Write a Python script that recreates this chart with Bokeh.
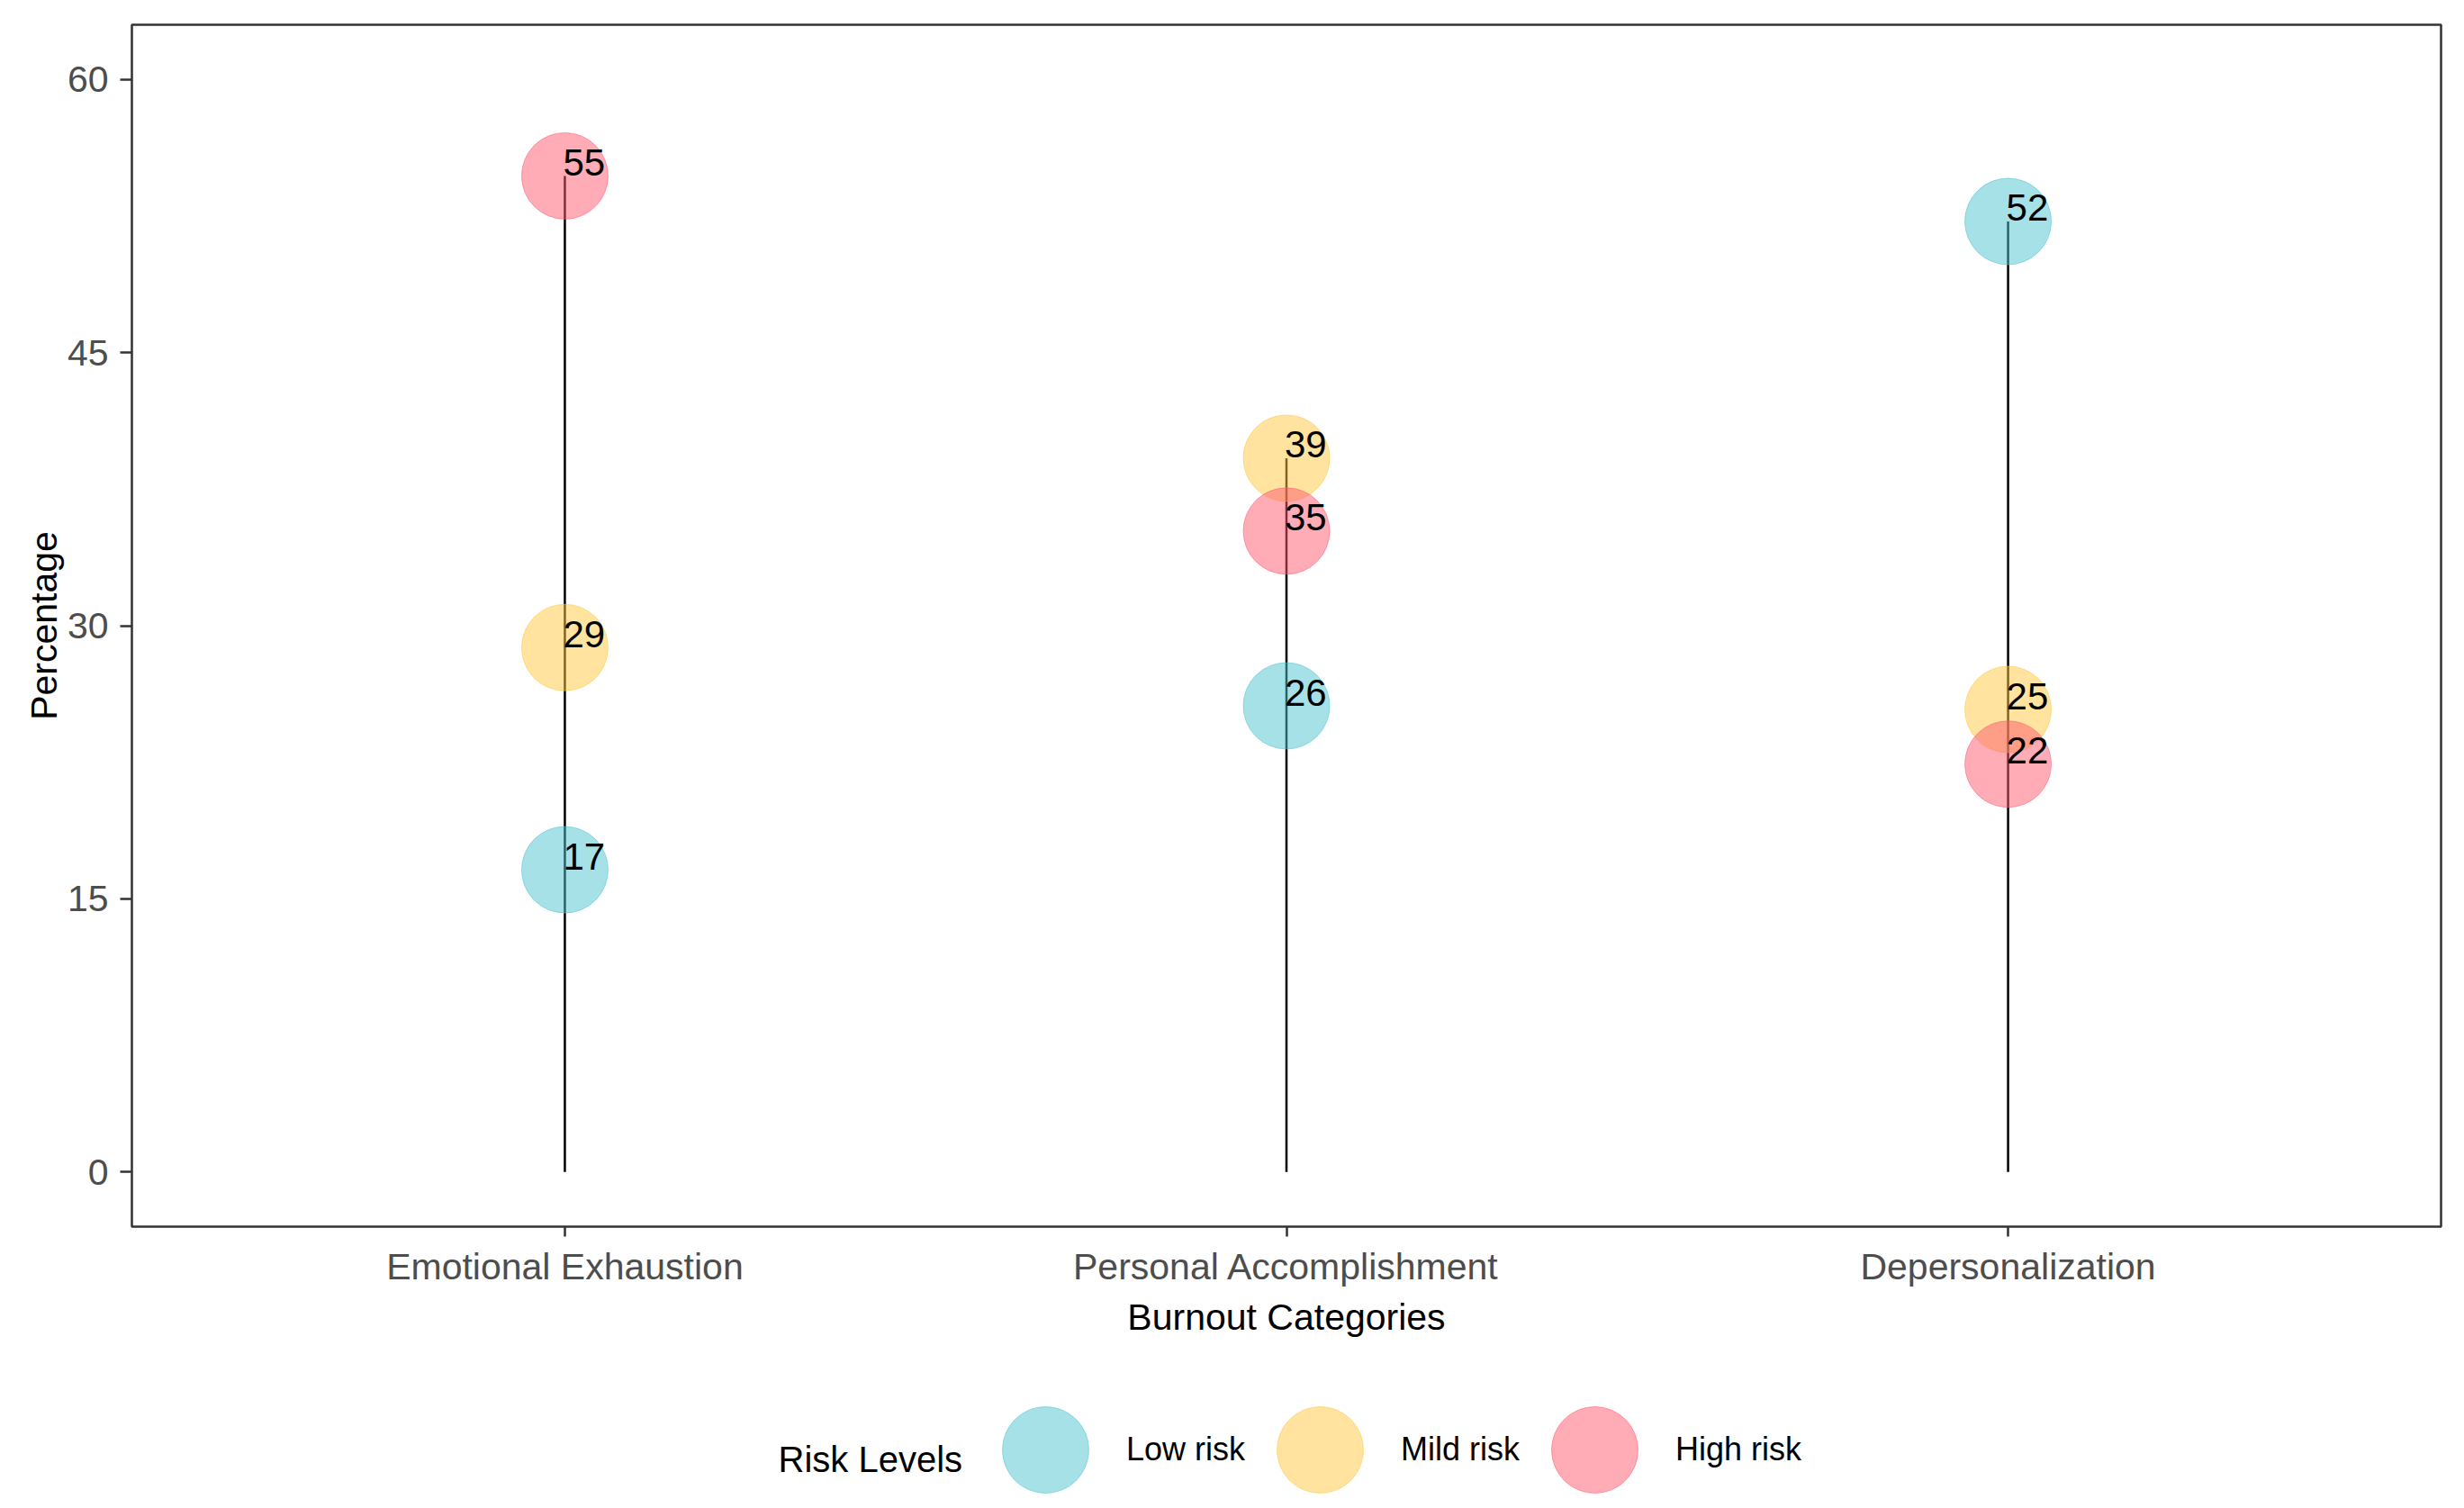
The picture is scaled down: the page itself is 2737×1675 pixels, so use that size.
from bokeh.plotting import figure
from bokeh.layouts import column
from bokeh.models import (Range1d, FactorRange, Legend, LegendItem, Label,
                          ColumnDataSource, FixedTicker)
from bokeh.core.properties import value
from bokeh.embed import file_html
from bokeh.resources import INLINE

# ---------------- data ----------------
categories = ["Emotional Exhaustion", "Personal Accomplishment", "Depersonalization"]
risk_levels = ["Low risk", "Mild risk", "High risk"]
low_risk = [16.6, 25.6, 52.2]
mild_risk = [28.8, 39.2, 25.4]
high_risk = [54.7, 35.2, 22.4]
y_ticks = [0, 15, 30, 45, 60]
risk_colors = ["#4DC3D1", "#FFC73D", "#FF596F"]

series = [low_risk, mild_risk, high_risk]

FONT = "Liberation Sans"
W = 2721
H_MAIN = 1510
H_LEG = 149

p = figure(
    x_range=FactorRange(factors=categories, range_padding=0.1,
                        range_padding_units="absolute"),
    y_range=Range1d(-3, 63),
    width=W, height=H_MAIN,
    output_backend="svg", toolbar_location=None,
    min_border_left=146, min_border_right=10,
    min_border_top=27, min_border_bottom=H_MAIN - 1362,
    background_fill_color="white", border_fill_color="white",
)

# stems from 0 to the highest value per category
tops = [max(vals) for vals in zip(*series)]
stem_src = ColumnDataSource(dict(x=categories, y0=[0] * len(categories), y1=tops))
p.segment(x0="x", y0="y0", x1="x", y1="y1", source=stem_src,
          line_color="black", line_width=2.5)

for lvl, vals, col in zip(risk_levels, series, risk_colors):
    src = ColumnDataSource(dict(x=categories, y=vals))
    p.scatter(x="x", y="y", source=src, size=96, marker="circle",
              fill_color=col, fill_alpha=0.5, line_color=col, line_alpha=0.5,
              line_width=1)

# value labels
lx, ly, lt = [], [], []
for vals in series:
    for c, v in zip(categories, vals):
        lx.append(c)
        ly.append(v)
        lt.append(str(int(round(v))))
lab_src = ColumnDataSource(dict(x=lx, y=ly, t=lt))
p.text(x="x", y="y", text="t", source=lab_src, text_font=value(FONT),
       text_font_size="42px", text_align="left", text_baseline="middle",
       text_color="black", x_offset=-2, y_offset=-15)

# axes
p.grid.visible = False
p.outline_line_color = "#333333"
p.outline_line_width = 2.5
p.outline_line_alpha = 1.0

p.yaxis.ticker = FixedTicker(ticks=y_ticks)
p.xaxis.axis_label = "Burnout Categories"
p.yaxis.axis_label = "Percentage"
for ax in (p.xaxis[0], p.yaxis[0]):
    ax.axis_line_color = None
    ax.major_tick_line_color = "#333333"
    ax.major_tick_line_width = 2.5
    ax.major_tick_in = 0
    ax.minor_tick_line_color = None
    ax.major_label_text_font = FONT
    ax.major_label_text_font_size = "41px"
    ax.major_label_text_color = "#4D4D4D"
    ax.axis_label_text_font = FONT
    ax.axis_label_text_font_size = "41px"
    ax.axis_label_text_font_style = "normal"
    ax.axis_label_text_color = "black"
p.yaxis.major_tick_out = 13
p.yaxis.major_label_standoff = 13
p.yaxis.axis_label_standoff = 0
p.xaxis.major_tick_out = 11
p.xaxis.major_label_standoff = 10
p.xaxis.axis_label_standoff = 7

# ---------------- legend strip ----------------
leg = figure(width=W, height=H_LEG, x_range=Range1d(0, 1), y_range=Range1d(0, 1),
             output_backend="svg", toolbar_location=None,
             x_axis_location=None, y_axis_location=None, min_border=0,
             outline_line_color=None, background_fill_color="white",
             border_fill_color="white")
leg.grid.visible = False

items = []
for lvl, col in zip(risk_levels, risk_colors):
    # key glyph only (placed outside the visible range)
    r = leg.ellipse(x=[-5], y=[-5], width=96, height=96,
                    width_units="screen", height_units="screen",
                    fill_color=col, fill_alpha=0.5, line_color=col, line_alpha=0.5,
                    line_width=1)
    items.append(LegendItem(label=lvl, renderers=[r]))

legend = Legend(
    items=items, location=(955, -11), orientation="horizontal",
    glyph_width=120, glyph_height=120,
    label_standoff=30, spacing=23,
    padding=0, margin=0, background_fill_alpha=0, border_line_color=None,
    label_text_font=FONT, label_text_font_size="36px", label_text_color="black",
)
leg.add_layout(legend, "center")

leg.add_layout(Label(x=718, y=39, x_units="screen", y_units="screen",
                     text="Risk Levels", text_font=FONT, text_font_size="40px",
                     text_color="black", text_align="left",
                     text_baseline="middle"))

open("out.html", "w").write(file_html(column(p, leg, spacing=0), INLINE))
